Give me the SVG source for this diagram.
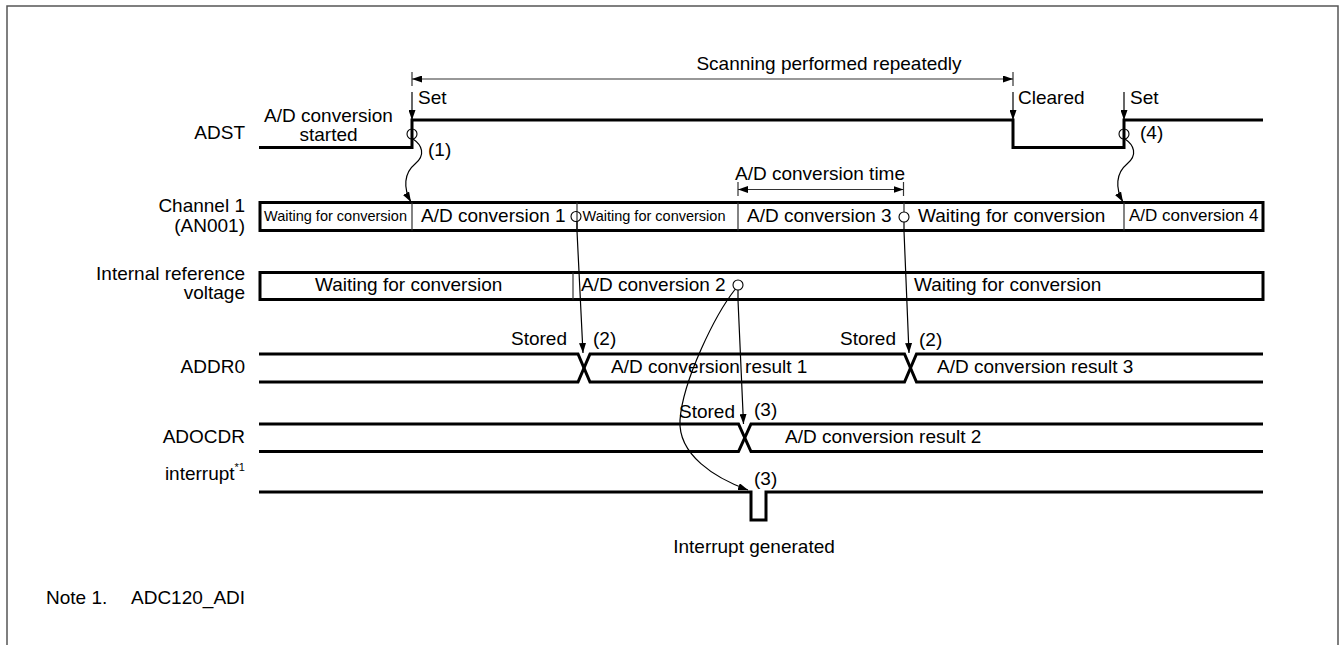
<svg xmlns="http://www.w3.org/2000/svg" width="1341" height="645" viewBox="0 0 1341 645">
<style>
text{font-family:"Liberation Sans",Arial,sans-serif;font-size:19px;fill:#000}
.s{font-size:14.5px}
.m{text-anchor:middle}
.e{text-anchor:end}
.sig{fill:none;stroke:#000;stroke-width:3}
.box{fill:#fff;stroke:#000;stroke-width:3}
.div{stroke:#333;stroke-width:1.2}
.cn{fill:none;stroke:#000;stroke-width:1.2}
.dim{fill:none;stroke:#333;stroke-width:1.2}
.ring{fill:none;stroke:#000;stroke-width:1.1}
</style>
<defs>
<marker id="ah" viewBox="0 0 10 7" refX="10" refY="3.5" markerWidth="10" markerHeight="7" markerUnits="userSpaceOnUse" orient="auto-start-reverse">
<path d="M0,0 L10,3.5 L0,7 z" fill="#000"/>
</marker>
</defs>
<rect width="1341" height="645" fill="#fff"/>
<path d="M7,645 V6 H1338 V645" fill="none" stroke="#555" stroke-width="1.5"/>

<g id="adst">
<text class="e" x="245" y="139">ADST</text>
<text class="m" x="328.5" y="122">A/D conversion</text>
<text class="m" x="328.5" y="141">started</text>
<path class="sig" d="M259,147.5 H412 V120 H1013 V147.5 H1124 V120 H1263"/>
<circle class="ring" cx="412" cy="134" r="5"/>
<circle class="ring" cx="1124" cy="134" r="5"/>
<text x="418" y="104">Set</text>
<text x="1018" y="104">Cleared</text>
<text x="1130" y="104">Set</text>
<text x="428" y="156">(1)</text>
<text x="1140" y="139">(4)</text>
</g>

<g id="scan-span">
<text class="m" x="829" y="70">Scanning performed repeatedly</text>
<path class="dim" d="M412,72 V86 M1013,72 V86"/>
<path class="dim" d="M412,79 H1013" marker-start="url(#ah)" marker-end="url(#ah)"/>
</g>

<g id="channel1">
<text class="e" x="245" y="212">Channel 1</text>
<text class="e" x="245" y="232">(AN001)</text>
<rect class="box" x="260" y="202.5" width="1003" height="28"/>
<path class="div" d="M412,202.5 V230.5 M577,202.5 V230.5 M738,202.5 V230.5 M904,202.5 V212 M1124,202.5 V230.5"/>
<circle class="ring" cx="576" cy="216.5" r="5"/>
<circle class="ring" cx="904" cy="217" r="5"/>
<text class="s m" x="335.5" y="221">Waiting for conversion</text>
<text x="421" y="222">A/D conversion 1</text>
<text class="s m" x="654" y="221">Waiting for conversion</text>
<text x="747" y="222">A/D conversion 3</text>
<text x="918" y="222">Waiting for conversion</text>
<text x="1129" y="221" style="font-size:17px">A/D conversion 4</text>
</g>

<g id="conv-time">
<text class="m" x="820" y="180">A/D conversion time</text>
<path class="dim" d="M738,182 V196 M903.5,182 V196"/>
<path class="dim" d="M738,189.5 H903.5" marker-start="url(#ah)" marker-end="url(#ah)"/>
</g>

<g id="internal-ref">
<text class="e" x="245" y="280">Internal reference</text>
<text class="e" x="245" y="299">voltage</text>
<rect class="box" x="260" y="272.5" width="1003" height="27"/>
<path class="div" d="M573,272.5 V299.5"/>
<circle class="ring" cx="738" cy="285" r="5"/>
<text x="315" y="291">Waiting for conversion</text>
<text x="581" y="291">A/D conversion 2</text>
<text x="914" y="291">Waiting for conversion</text>
</g>

<g id="addr0">
<text class="e" x="245" y="373">ADDR0</text>
<path class="sig" d="M259,354 H578 L590,382 H904.5 L916.5,354 H1263"/>
<path class="sig" d="M259,382 H578 L590,354 H904.5 L916.5,382 H1263"/>
<text x="511" y="345">Stored</text>
<text x="593" y="345">(2)</text>
<text x="611" y="373">A/D conversion result 1</text>
<text x="840" y="345">Stored</text>
<text x="919" y="346">(2)</text>
<text x="937" y="373">A/D conversion result 3</text>
</g>

<g id="adocdr">
<text class="e" x="245" y="443">ADOCDR</text>
<path class="sig" d="M259,424 H738.5 L751,451.5 H1263"/>
<path class="sig" d="M259,451.5 H738.5 L751,424 H1263"/>
<text x="679" y="418">Stored</text>
<text x="754" y="416">(3)</text>
<text x="785" y="443">A/D conversion result 2</text>
</g>

<g id="interrupt">
<text class="e" x="245" y="480">interrupt<tspan font-size="11" dy="-9">*1</tspan></text>
<path class="sig" d="M259,492 H751 V520 H766 V492 H1263"/>
<text x="754" y="485">(3)</text>
<text class="m" x="754" y="553">Interrupt generated</text>
</g>

<g id="connectors">
<path class="cn" d="M412,92 V120" marker-end="url(#ah)"/>
<path class="cn" d="M1013,92 V120" marker-end="url(#ah)"/>
<path class="cn" d="M1124,92 V120" marker-end="url(#ah)"/>
<path class="cn" d="M413,139 C422,145 426,155 415,164 C404,173 403,188 411,202" marker-end="url(#ah)"/>
<path class="cn" d="M1125,139 C1134,145 1138,155 1127,164 C1116,173 1115,188 1123,202" marker-end="url(#ah)"/>
<path class="cn" d="M577,221.5 V231 L583,353" marker-end="url(#ah)"/>
<path class="cn" d="M904,222 V231 L909,353" marker-end="url(#ah)"/>
<path class="cn" d="M738,290 V300 L743.5,424" marker-end="url(#ah)"/>
<path class="cn" d="M735,289.5 C715,315 683,380 680,420 C678,455 715,478 748,490" marker-end="url(#ah)"/>
</g>

<g id="note">
<text x="46" y="604">Note 1.<tspan x="131">ADC120_ADI</tspan></text>
</g>
</svg>
